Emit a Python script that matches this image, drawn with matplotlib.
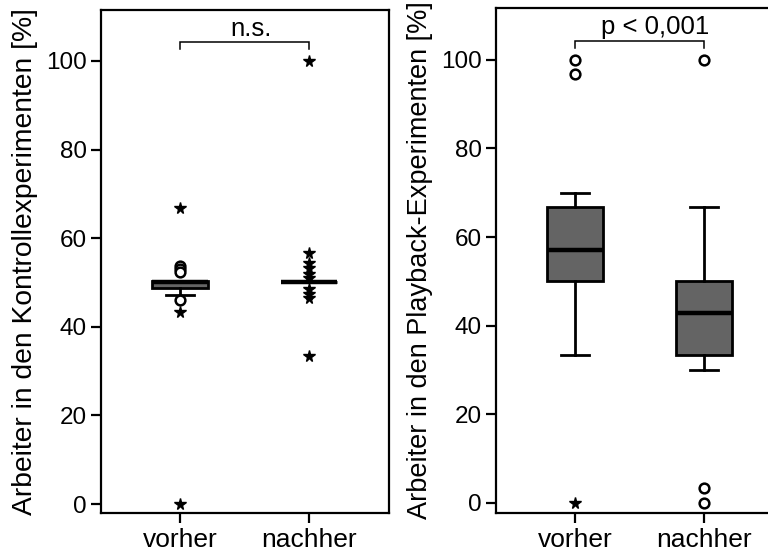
import matplotlib
matplotlib.use("Agg")
import matplotlib.pyplot as plt

plt.rcParams['font.family'] = ['Liberation Sans', 'DejaVu Sans']

categories = ["vorher", "nachher"]

# Kontrollexperimente
ctrl_stats = [
    dict(whislo=47.1, q1=48.8, med=50.0, q3=50.3, whishi=50.3),
    dict(whislo=50.0, q1=50.0, med=50.0, q3=50.0, whishi=50.0),
]
ctrl_outliers = [[53.8, 53.0, 52.3, 46.0], []]
ctrl_extremes = [[66.7, 43.4, 0.0],
                 [100.0, 56.6, 54.5, 53.3, 52.0, 51.0, 48.5, 47.5, 46.5, 33.3]]

# Playback-Experimente
play_stats = [
    dict(whislo=33.3, q1=50.0, med=57.1, q3=66.7, whishi=70.0),
    dict(whislo=30.0, q1=33.3, med=42.9, q3=50.0, whishi=66.7),
]
play_outliers = [[100.0, 96.7], [100.0, 3.3, 0.0]]
play_extremes = [[0.0], []]

yticks = [0, 20, 40, 60, 80, 100]
ylabels = ["Arbeiter in den Kontrollexperimenten [%]",
           "Arbeiter in den Playback-Experimenten [%]"]
annotations = ["n.s.", "p < 0,001"]

fig = plt.figure(figsize=(7.68, 5.51), dpi=100)
ax1 = fig.add_axes([101/768, 38/551, 288/768, 503/551])
ax2 = fig.add_axes([496/768, 38/551, 288/768, 505/551])

box_col = "#646464"

def draw(ax, stats, outl, extr, ylab, ann, ylim, text_x_off, ylab_size):
    positions = [1, 2]
    bs = []
    for s, lab in zip(stats, categories):
        d = dict(s)
        d['label'] = lab
        d['fliers'] = []
        bs.append(d)
    ax.bxp(bs, positions=positions, widths=0.43, patch_artist=True,
           showfliers=False,
           boxprops=dict(facecolor=box_col, edgecolor='black', linewidth=2.0),
           medianprops=dict(color='black', linewidth=3.2, solid_capstyle='butt'),
           whiskerprops=dict(color='black', linewidth=2.0),
           capprops=dict(color='black', linewidth=2.0), capwidths=0.21)
    for p, vals in zip(positions, outl):
        if vals:
            ax.plot([p]*len(vals), vals, linestyle='none', marker='o',
                    markersize=7, markerfacecolor='white',
                    markeredgecolor='black', markeredgewidth=1.8, zorder=4)
    for p, vals in zip(positions, extr):
        if vals:
            ax.plot([p]*len(vals), vals, linestyle='none', marker='*',
                    markersize=8.5, color='black', zorder=4)
    ax.set_xlim(1 - 79/129, 2 + 80/129)
    ax.set_ylim(*ylim)
    ax.set_yticks(yticks)
    ax.set_yticklabels([str(t) for t in yticks], fontsize=17.5)
    ax.set_xticks(positions)
    ax.set_xticklabels(categories, fontsize=19)
    ax.tick_params(axis='both', direction='out', length=7, width=1.6, color='black')
    ax.tick_params(axis='y', pad=3)
    ax.tick_params(axis='x', pad=4)
    for sp in ax.spines.values():
        sp.set_linewidth(1.6)
    ax.set_ylabel(ylab, fontsize=ylab_size, labelpad=6)
    # bracket
    ax.plot([1, 1, 2, 2], [102.6, 104.2, 104.2, 102.6], color='black',
            linewidth=1.1, solid_joinstyle='miter')
    ax.text(1.5 + text_x_off, 104.6, ann, ha='center', va='bottom', fontsize=18.5)

draw(ax1, ctrl_stats, ctrl_outliers, ctrl_extremes, ylabels[0], annotations[0],
     (-2.03, 111.5), 0.05, 20.3)
draw(ax2, play_stats, play_outliers, play_extremes, ylabels[1], annotations[1],
     (-2.26, 111.7), 0.12, 19.5)

fig.savefig("out.png", dpi=100)
